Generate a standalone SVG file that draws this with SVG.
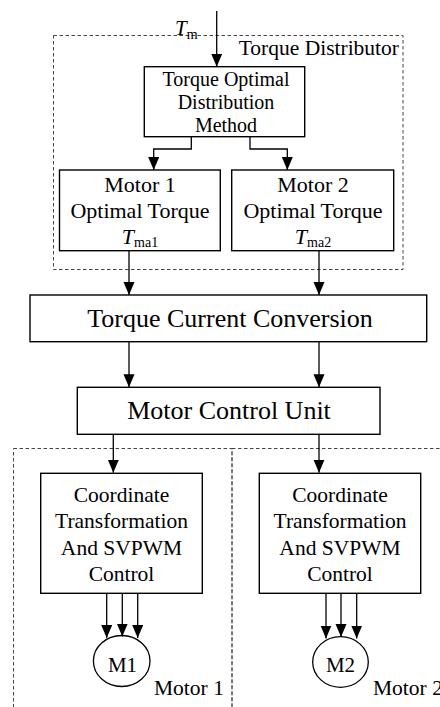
<svg xmlns="http://www.w3.org/2000/svg" width="440" height="707" viewBox="0 0 440 707" font-family="'Liberation Serif', 'DejaVu Serif', serif">
<style>
text{font-family:'Liberation Serif','DejaVu Serif',serif;fill:#000}
.box{fill:#fff;stroke:#000;stroke-width:1.4}
.dash{fill:none;stroke:#444;stroke-width:1;stroke-dasharray:3.5,2.5}
.ln{fill:none;stroke:#000;stroke-width:1.3}
.c{text-anchor:middle}
.it{font-style:italic}
</style>
<defs>
<marker id="ah" markerUnits="userSpaceOnUse" markerWidth="14" markerHeight="12" refX="13" refY="5.5" orient="auto">
<path d="M0,0 L13,5.5 L0,11 Z" fill="#000"/>
</marker>
</defs>
<rect width="440" height="707" fill="#fff"/>

<g id="groups">
<rect id="torque-distributor-group" class="dash" x="53.5" y="35.5" width="349.5" height="234"/>
<text x="399" y="55" font-size="21.5" text-anchor="end">Torque Distributor</text>
<rect id="motor1-group" class="dash" x="13.5" y="448.5" width="218.5" height="280"/>
<rect id="motor2-group" class="dash" x="232" y="448.5" width="230" height="280"/>
<text x="154" y="695" font-size="21.5">Motor 1</text>
<text x="373" y="695" font-size="21.5">Motor 2</text>
</g>

<g id="connectors">
<path class="ln" d="M216.7,11 V66.7" marker-end="url(#ah)"/>
<path class="ln" d="M191.3,136.7 V149 H153.7 V170" marker-end="url(#ah)"/>
<path class="ln" d="M250,136.7 V149 H287.3 V170" marker-end="url(#ah)"/>
<path class="ln" d="M129,250.7 V295" marker-end="url(#ah)"/>
<path class="ln" d="M319,250.7 V295" marker-end="url(#ah)"/>
<path class="ln" d="M129,341.7 V387.3" marker-end="url(#ah)"/>
<path class="ln" d="M319,341.7 V387.3" marker-end="url(#ah)"/>
<path class="ln" d="M113.3,434.3 V472.7" marker-end="url(#ah)"/>
<path class="ln" d="M319,434.3 V472.7" marker-end="url(#ah)"/>
<path class="ln" d="M106.7,593.3 V638" marker-end="url(#ah)"/>
<path class="ln" d="M122.3,593.3 V636.5" marker-end="url(#ah)"/>
<path class="ln" d="M137.7,593.3 V638" marker-end="url(#ah)"/>
<path class="ln" d="M326,593.3 V638.5" marker-end="url(#ah)"/>
<path class="ln" d="M341,593.3 V637" marker-end="url(#ah)"/>
<path class="ln" d="M356.7,593.3 V638.5" marker-end="url(#ah)"/>
</g>

<text x="175" y="35" font-size="21" class="it">T<tspan font-size="14" font-style="normal" dy="4">m</tspan></text>

<g id="torque-optimal-distribution">
<rect class="box" x="144.3" y="66.7" width="160.4" height="70"/>
<text class="c" x="226" y="85.7" font-size="20">Torque Optimal</text>
<text class="c" x="226" y="108.5" font-size="20">Distribution</text>
<text class="c" x="226" y="131.5" font-size="20">Method</text>
</g>

<g id="motor1-optimal-torque">
<rect class="box" x="59.5" y="170" width="160.8" height="80.7"/>
<text class="c" x="140" y="191.7" font-size="22">Motor 1</text>
<text class="c" x="140" y="218.3" font-size="22">Optimal Torque</text>
<text class="c" x="140" y="244" font-size="22"><tspan font-style="italic">T</tspan><tspan font-size="14" dy="3">ma1</tspan></text>
</g>

<g id="motor2-optimal-torque">
<rect class="box" x="231.7" y="170" width="162" height="80.7"/>
<text class="c" x="313" y="191.7" font-size="22">Motor 2</text>
<text class="c" x="313" y="218.3" font-size="22">Optimal Torque</text>
<text class="c" x="313" y="244" font-size="22"><tspan font-style="italic">T</tspan><tspan font-size="14" dy="3">ma2</tspan></text>
</g>

<g id="torque-current-conversion">
<rect class="box" x="30" y="295" width="396.7" height="46.7"/>
<text class="c" x="230" y="326.7" font-size="26">Torque Current Conversion</text>
</g>

<g id="motor-control-unit">
<rect class="box" x="77.3" y="387.3" width="302.7" height="47"/>
<text class="c" x="229" y="419.3" font-size="26">Motor Control Unit</text>
</g>

<g id="coord-svpwm-1">
<rect class="box" x="40.7" y="473.3" width="161.6" height="120"/>
<text class="c" x="121.5" y="501.5" font-size="21.5">Coordinate</text>
<text class="c" x="121.5" y="528" font-size="21.5">Transformation</text>
<text class="c" x="121.5" y="554.5" font-size="21.5">And SVPWM</text>
<text class="c" x="121.5" y="580.5" font-size="21.5">Control</text>
</g>

<g id="coord-svpwm-2">
<rect class="box" x="259.3" y="473.3" width="161.4" height="120"/>
<text class="c" x="340" y="501.5" font-size="21.5">Coordinate</text>
<text class="c" x="340" y="528" font-size="21.5">Transformation</text>
<text class="c" x="340" y="554.5" font-size="21.5">And SVPWM</text>
<text class="c" x="340" y="580.5" font-size="21.5">Control</text>
</g>

<g id="motor-m1">
<ellipse cx="121.7" cy="661" rx="28.3" ry="25.5" fill="none" stroke="#000" stroke-width="1.3"/>
<text class="c" x="122.5" y="671.7" font-size="21">M1</text>
</g>

<g id="motor-m2">
<ellipse cx="340.5" cy="662" rx="27.8" ry="25.3" fill="none" stroke="#000" stroke-width="1.3"/>
<text class="c" x="340.5" y="671.7" font-size="21">M2</text>
</g>
</svg>
